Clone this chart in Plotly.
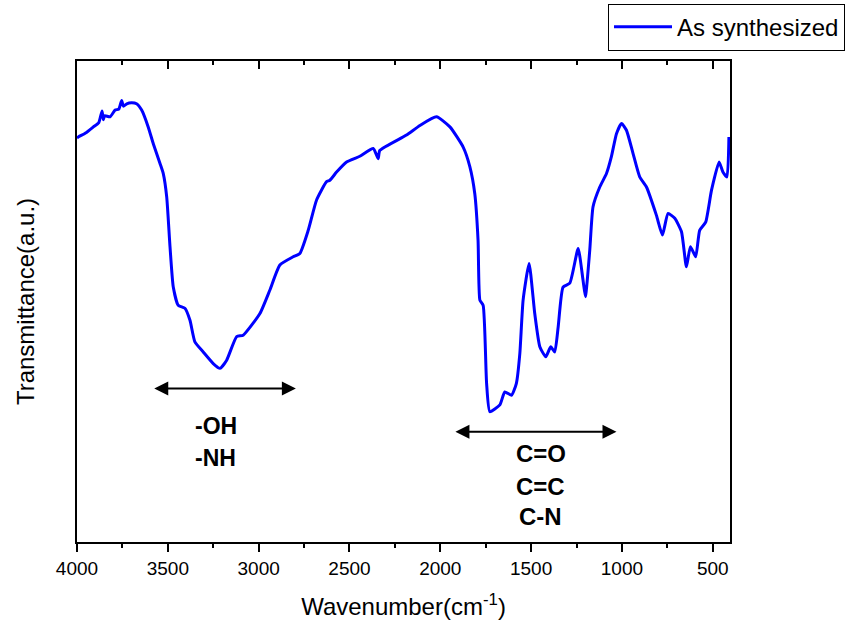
import plotly.graph_objects as go

# FTIR spectrum
wavenumber = [4000, 3993, 3950, 3910, 3880, 3862, 3855, 3848, 3818, 3790, 3770, 3754, 3745,
              3726, 3700, 3672, 3644, 3608, 3580, 3543, 3525,
              3506, 3488, 3470, 3443, 3406, 3378, 3351, 3305, 3250, 3213, 3176, 3121, 3085,
              2993, 2938, 2883, 2810, 2773, 2727, 2681, 2626, 2608, 2571, 2516, 2443, 2369,
              2342, 2333, 2186, 2112, 2021, 1947, 1874, 1837, 1810, 1792, 1782, 1764, 1745,
              1727, 1672, 1645, 1608, 1581, 1562, 1544, 1511, 1480, 1452, 1419, 1392, 1370,
              1351, 1324, 1287, 1241, 1214, 1201, 1177, 1159, 1122, 1085, 1058, 1030, 1002,
              975, 939, 902, 865, 810, 777, 746, 709, 672, 645, 623, 594, 572, 539, 507, 465,
              444, 422, 411]
transmittance = [84.0, 84.2, 85.1, 86.3, 87.2, 89.6, 87.8, 88.6, 88.4, 89.8, 90.0, 91.8, 90.6,
                 91.1, 91.3, 91.1, 89.8, 86.3, 82.8, 78.7, 76.6,
                 71.7, 61.4, 53.0, 49.2, 48.6, 46.1, 41.6, 39.5, 37.1, 36.1, 37.8, 42.7, 43.0,
                 47.5, 52.4, 57.6, 59.3, 60.0, 64.8, 71.1, 74.9, 75.2, 76.9, 79.0, 80.2, 81.8,
                 79.7, 81.4, 84.6, 86.6, 88.4, 86.3, 82.1, 78.0, 72.4, 62.7, 50.3, 49.2, 33.0,
                 27.1, 28.5, 31.2, 30.5, 33.0, 39.2, 50.3, 57.9, 47.5, 40.6, 38.5, 40.6, 39.5,
                 44.7, 53.0, 53.8, 61.0, 54.4, 51.0, 60.7, 69.7, 73.8, 76.6, 80.1, 84.9, 87.0,
                 85.6, 80.8, 75.9, 73.8, 67.9, 63.8, 68.3, 67.3, 64.5, 57.2, 61.4, 59.3, 64.8,
                 66.5, 73.1, 79.0, 76.9, 75.9, 84.2]

series_name = "As synthesized"
x_title = "Wavenumber(cm<sup>-1</sup>)"
y_title = "Transmittance(a.u.)"
x_tick_values = [4000, 3500, 3000, 2500, 2000, 1500, 1000, 500]
x_range = [4000, 405]
y_range = [0, 100]

# band annotations: arrow span (wavenumbers), arrow level, label lines
band_oh_span = [3583, 2795]
band_oh_level = 31.9
band_oh_labels = ["-OH", "-NH"]
band_oh_label_x = 3235
band_oh_label_y = [24.1, 17.4]

band_co_span = [1925, 1030]
band_co_level = 22.9
band_co_labels = ["C=O", "C=C", "C-N"]
band_co_label_x = 1447
band_co_label_y = [18.3, 11.6, 5.2]

FONT = "Arial, Liberation Sans, sans-serif"

fig = go.Figure()
fig.add_trace(go.Scatter(x=wavenumber, y=transmittance, mode="lines", name=series_name,
                         line=dict(color="#0000FF", width=3, shape="spline", smoothing=0.5)))
# empty trace so the top (mirror) axis is drawn
fig.add_trace(go.Scatter(x=[], y=[], xaxis="x2", showlegend=False, hoverinfo="skip"))

annotations = []
for span, level in [(band_oh_span, band_oh_level), (band_co_span, band_co_level)]:
    annotations.append(dict(x=span[1], y=level, ax=span[0], ay=level, xref="x", yref="y",
                            axref="x", ayref="y", text="", showarrow=True,
                            arrowhead=2, startarrowhead=2, arrowside="end+start",
                            arrowsize=1.4, startarrowsize=1.4, arrowwidth=2, arrowcolor="black"))
for lab, yy in zip(band_oh_labels, band_oh_label_y):
    annotations.append(dict(x=band_oh_label_x, y=yy, xref="x", yref="y", text=f"<b>{lab}</b>",
                            showarrow=False, font=dict(family=FONT, size=23, color="black")))
for lab, yy in zip(band_co_labels, band_co_label_y):
    annotations.append(dict(x=band_co_label_x, y=yy, xref="x", yref="y", text=f"<b>{lab}</b>",
                            showarrow=False, font=dict(family=FONT, size=24, color="black")))

fig.update_layout(
    width=850, height=625,
    margin=dict(l=77, r=120, t=61, b=83, autoexpand=False),
    paper_bgcolor="white", plot_bgcolor="white",
    font=dict(family=FONT, color="black"),
    showlegend=True,
    legend=dict(x=0.7153, y=0.994, xref="container", yref="container",
                xanchor="left", yanchor="top",
                bordercolor="black", borderwidth=1, bgcolor="white",
                font=dict(family=FONT, size=24, color="black"),
                itemwidth=58, tracegroupgap=0),
    xaxis=dict(range=x_range, tickvals=x_tick_values, ticks="outside", ticklen=8,
               tickwidth=1.5, tickcolor="black", showline=True, linecolor="black",
               linewidth=2, showgrid=False, zeroline=False,
               tickfont=dict(family=FONT, size=19, color="black"),
               minor=dict(dtick=250, ticks="outside", ticklen=4, tickwidth=1.5,
                          tickcolor="black", showgrid=False),
               title=dict(text=x_title, font=dict(family=FONT, size=24, color="black"),
                          standoff=20)),
    xaxis2=dict(range=x_range, overlaying="x", side="top", anchor="y",
                tickvals=x_tick_values, ticks="inside", ticklen=8, tickwidth=1.5,
                tickcolor="black", showticklabels=False, showline=True, linecolor="black",
                linewidth=2, showgrid=False, zeroline=False,
                minor=dict(dtick=250, ticks="inside", ticklen=4, tickwidth=1.5,
                           tickcolor="black", showgrid=False)),
    yaxis=dict(range=y_range, showticklabels=False, ticks="", showline=True, mirror=True,
               linecolor="black", linewidth=2, showgrid=False, zeroline=False,
               title=dict(text=y_title, font=dict(family=FONT, size=24, color="black"),
                          standoff=34)),
    annotations=annotations,
)

fig.write_html("out.html")
